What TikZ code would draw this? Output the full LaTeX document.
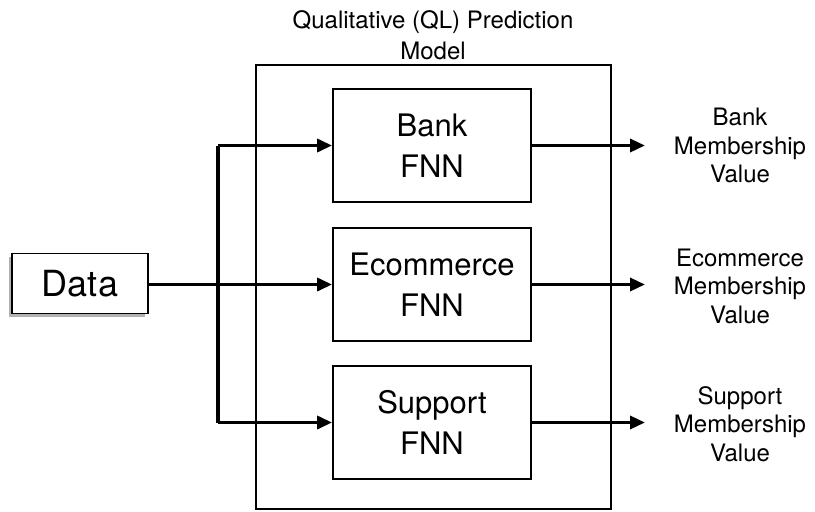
\documentclass[tikz,border=0pt]{standalone}
\usepackage{fontspec}
\setmainfont{TeX Gyre Heros}
\usetikzlibrary{arrows.meta}

\tikzset{
  fnnbox/.style={draw, line width=1.8pt, minimum width=198pt, minimum height=113pt,
    align=center, inner sep=0pt, font=\fontsize{31}{41}\selectfont},
  databox/.style={draw, fill=white, line width=1.8pt, minimum width=136pt, minimum height=60pt,
    inner sep=0pt, font=\fontsize{36}{40}\selectfont},
  outlabel/.style={align=center, inner sep=0pt, font=\fontsize{24}{28.5}\selectfont},
  titlelabel/.style={align=center, inner sep=0pt, font=\fontsize{24}{31}\selectfont},
  flow/.style={line width=3.4pt, -{Triangle[length=15pt,width=13pt]}},
  busline/.style={line width=3.4pt},
}

\begin{document}
\begin{tikzpicture}[x=1pt, y=-1pt]
  \useasboundingbox (0,0) rectangle (815,512);

  % enclosing model frame and its caption
  \draw[line width=2.2pt] (256,65) rectangle (611,509);
  \node[titlelabel] (title) at (433,35) {Qualitative (QL) Prediction\\Model};

  % three fuzzy neural networks
  \node[fnnbox] (bank) at (432,145.5) {Bank\\FNN};
  \node[fnnbox] (ecom) at (432,284.5) {Ecommerce\\FNN};
  \node[fnnbox] (supp) at (432,422.5) {Support\\FNN};

  % input block with a soft drop shadow
  \fill[black!30] (9,257) rectangle (145,317);
  \node[databox] (data) at (80,283.5) {Data};

  % distribution bus
  \coordinate (busTop) at (218,145.5);
  \coordinate (busBot) at (218,422.5);
  \draw[busline] (busTop) -- (busBot);
  \draw[flow] (busTop) -- (bank.west);
  \draw[flow] (busBot) -- (supp.west);
  \draw[flow] (data.east |- ecom.west) -- (ecom.west);

  % outputs
  \coordinate (bankOut) at (645,145.5);
  \coordinate (ecomOut) at (645,284.5);
  \coordinate (suppOut) at (645,422.5);
  \draw[flow] (bank.east) -- (bankOut);
  \draw[flow] (ecom.east) -- (ecomOut);
  \draw[flow] (supp.east) -- (suppOut);

  \node[outlabel] (bankVal) at (740,145.5) {Bank\\Membership\\Value};
  \node[outlabel] (ecomVal) at (740,286) {Ecommerce\\Membership\\Value};
  \node[outlabel] (suppVal) at (740,424) {Support\\Membership\\Value};
\end{tikzpicture}
\end{document}
